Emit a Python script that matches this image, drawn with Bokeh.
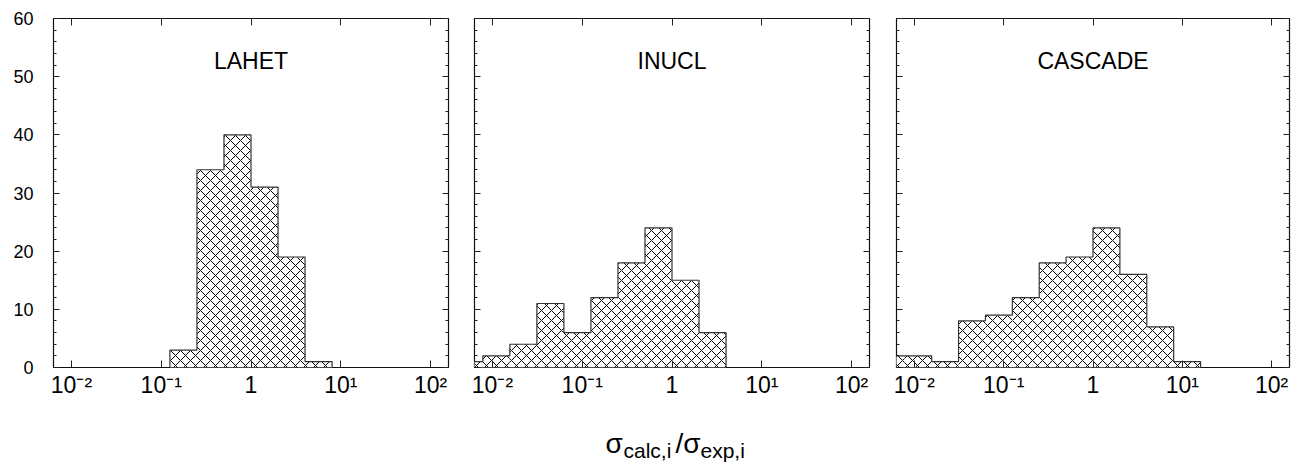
from bokeh.plotting import figure
from bokeh.layouts import row, column
from bokeh.models import (LinearAxis, LogAxis, FixedTicker, SingleIntervalTicker,
                          CustomJSTickFormatter, Range1d, Label)
from bokeh.embed import file_html
from bokeh.resources import INLINE
from bokeh.core.properties import value

# ---------------- data ----------------
# histogram bins: factor-of-two bins, edges 2^-8 ... 2^4
bin_powers = [-8, -7, -6, -5, -4, -3, -2, -1, 0, 1, 2, 3, 4]
lahet_counts = [0, 0, 0, 0, 0, 3, 34, 40, 31, 19, 1, 0]
inucl_counts = [1, 2, 4, 11, 6, 12, 18, 24, 15, 6, 0, 0]
cascade_counts = [2, 2, 1, 8, 9, 12, 18, 19, 24, 16, 7, 1]
panel_titles = ["LAHET", "INUCL", "CASCADE"]
x_tick_values = [0.01, 0.1, 1, 10, 100]
y_tick_interval = 10

FONT = "Liberation Sans"
H = 400

edges = [2.0 ** k for k in bin_powers]

xfmt_code = """
const m = {"-2": "10\u207b\u00b2", "-1": "10\u207b\u00b9", "0": "1", "1": "10\u00b9", "2": "10\u00b2"};
const k = String(Math.round(Math.log10(tick)));
return (k in m) ? m[k] : "";
"""


def blank_fmt():
    return CustomJSTickFormatter(code='return " ";')


def outline(counts):
    nz = [i for i, c in enumerate(counts) if c > 0]
    a, b = nz[0], nz[-1]
    xs = [edges[a]]
    ys = [0]
    for i in range(a, b + 1):
        xs += [edges[i], edges[i + 1]]
        ys += [counts[i], counts[i]]
    xs.append(edges[b + 1])
    ys.append(0)
    return xs, ys


def make_panel(title, counts, width, bl, br, show_y):
    p = figure(width=width, height=H, x_axis_type="log",
               x_range=Range1d(10 ** -2.2, 10 ** 2.2), y_range=Range1d(0, 60),
               output_backend="svg", toolbar_location=None,
               min_border_left=bl, min_border_right=br,
               min_border_top=18, min_border_bottom=33)
    p.grid.visible = False
    p.outline_line_color = "#111111"
    p.outline_line_width = 1.2
    p.background_fill_color = "white"
    p.border_fill_color = "white"

    p.quad(left=edges[:-1], right=edges[1:], bottom=0, top=counts,
           fill_color="white", line_color=None,
           hatch_pattern="diagonal_cross", hatch_color="black",
           hatch_scale=10, hatch_weight=1.0)
    xs, ys = outline(counts)
    p.line(xs, ys, line_color="#333333", line_width=1.2)

    yt = SingleIntervalTicker(interval=y_tick_interval, num_minor_ticks=5)
    xt = FixedTicker(ticks=x_tick_values, minor_ticks=[])

    # left axis
    ya = p.yaxis[0]
    ya.ticker = yt
    ya.axis_line_color = None
    ya.major_tick_in = 6
    ya.major_tick_out = 0
    ya.minor_tick_in = 3
    ya.minor_tick_out = 0
    ya.major_tick_line_color = "#222222"
    ya.minor_tick_line_color = "#222222"
    ya.major_label_text_font = FONT
    ya.major_label_text_color = "black"
    if show_y:
        ya.major_label_text_font_size = "18px"
        ya.major_label_standoff = 20
    else:
        ya.formatter = blank_fmt()
        ya.major_label_text_font_size = "2px"
        ya.major_label_standoff = 0

    # bottom axis
    xa = p.xaxis[0]
    xa.ticker = xt
    xa.formatter = CustomJSTickFormatter(code=xfmt_code)
    xa.axis_line_color = None
    xa.major_tick_in = 7
    xa.major_tick_out = 0
    xa.minor_tick_in = 0
    xa.minor_tick_out = 0
    xa.major_tick_line_color = "#222222"
    xa.major_label_text_font = FONT
    xa.major_label_text_font_size = "23px"
    xa.major_label_text_color = "black"
    xa.major_label_standoff = 4

    # right axis
    ra = LinearAxis(ticker=yt, formatter=blank_fmt(), axis_line_color=None,
                    major_tick_in=6, major_tick_out=0,
                    minor_tick_in=3, minor_tick_out=0,
                    major_tick_line_color="#222222", minor_tick_line_color="#222222",
                    major_label_text_font_size="2px", major_label_standoff=0)
    p.add_layout(ra, "right")

    # top axis
    ta = LogAxis(ticker=xt, formatter=blank_fmt(), axis_line_color=None,
                 major_tick_in=7, major_tick_out=0,
                 minor_tick_in=0, minor_tick_out=0,
                 major_tick_line_color="#222222",
                 major_label_text_font_size="2px", major_label_standoff=0)
    p.add_layout(ta, "above")

    p.add_layout(Label(x=1, y=52.7, text=title, text_align="center",
                       text_baseline="alphabetic", text_font=FONT,
                       text_font_size="23px", text_color="black"))
    return p


p1 = make_panel(panel_titles[0], lahet_counts, 461, 53, 13, True)
p2 = make_panel(panel_titles[1], inucl_counts, 421, 13, 13, False)
p3 = make_panel(panel_titles[2], cascade_counts, 414, 14, 7, False)

# x-axis title as its own strip
LW, LH = 1296, 64
lab = figure(width=LW, height=LH, x_range=Range1d(0, LW), y_range=Range1d(0, LH),
             output_backend="svg", toolbar_location=None, min_border=0)
lab.axis.visible = False
lab.grid.visible = False
lab.outline_line_color = None
big = "28px"
small = "21px"
lab.text(x=[605], y=[21], text=["σ"], text_font=value(FONT), text_font_size=big,
         text_baseline="alphabetic", text_align="left", text_color="black")
lab.text(x=[623], y=[14], text=["calc,i"], text_font=value(FONT), text_font_size=small,
         text_baseline="alphabetic", text_align="left", text_color="black")
lab.text(x=[675], y=[21], text=["/σ"], text_font=value(FONT), text_font_size=big,
         text_baseline="alphabetic", text_align="left", text_color="black")
lab.text(x=[700], y=[14], text=["exp,i"], text_font=value(FONT), text_font_size=small,
         text_baseline="alphabetic", text_align="left", text_color="black")

layout = column(row(p1, p2, p3), lab)

with open("out.html", "w", encoding="utf-8") as f:
    f.write(file_html(layout, INLINE))
